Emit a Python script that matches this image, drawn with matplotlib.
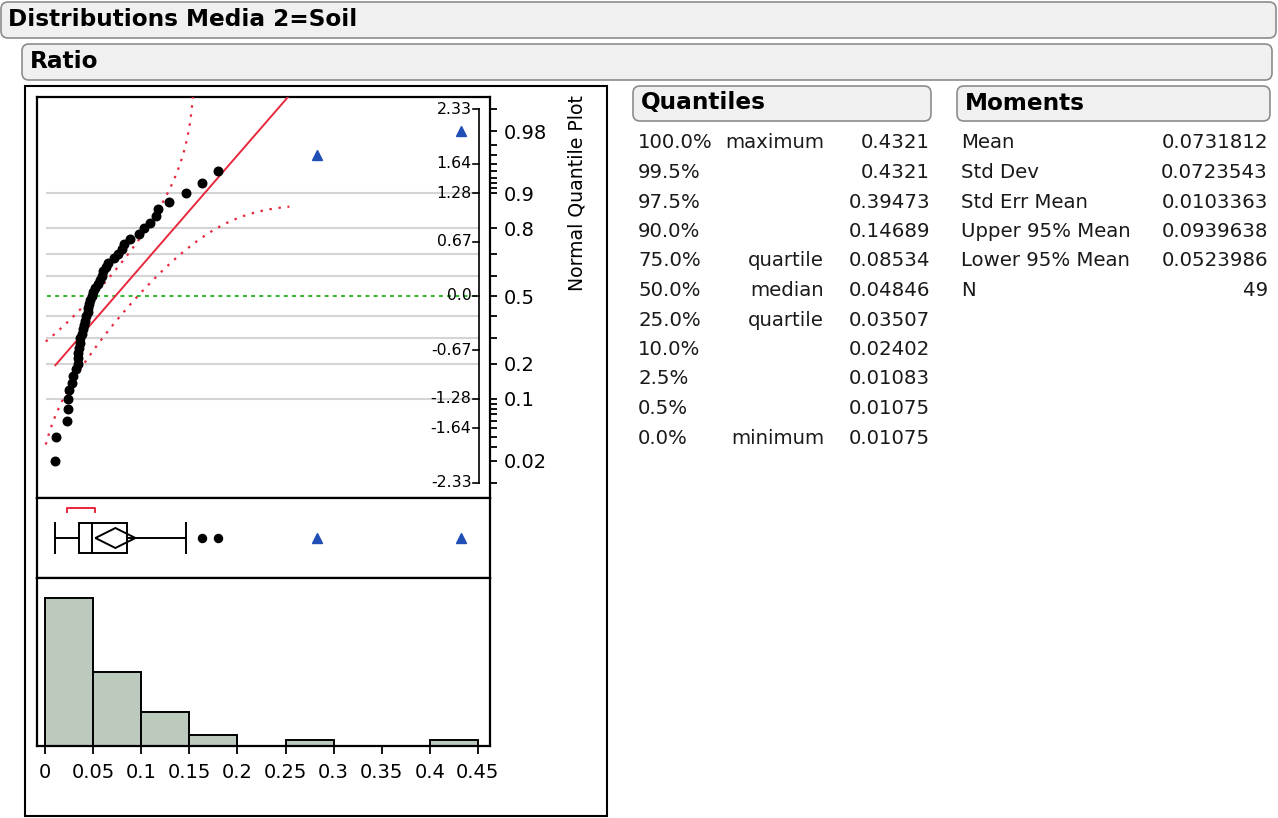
from statistics import NormalDist

import numpy as np
import matplotlib.pyplot as plt
from matplotlib.patches import FancyBboxPatch, Rectangle, Polygon

W, H = 1278, 818
nd = NormalDist()

# sorted Ratio values for Media 2 = Soil
ratio = [0.01075, 0.01107, 0.0226, 0.0240, 0.02402, 0.0253, 0.0278, 0.0294, 0.0322, 0.0338,
         0.0341, 0.03464, 0.0355, 0.0360, 0.0369, 0.0380, 0.0390, 0.0405, 0.0416, 0.0426,
         0.0442, 0.0452, 0.0462, 0.0470, 0.04846, 0.0495, 0.0520, 0.0546, 0.0567, 0.0588,
         0.0608, 0.0629, 0.0650, 0.0720, 0.0760, 0.0800, 0.0825, 0.08818, 0.0980, 0.1030,
         0.1090, 0.1150, 0.1170, 0.1290, 0.14689, 0.1635, 0.1800, 0.28262, 0.4321]
marked = [0.28262, 0.4321]  # rows shown with the triangle marker

quant_pct = ["100.0%", "99.5%", "97.5%", "90.0%", "75.0%", "50.0%",
             "25.0%", "10.0%", "2.5%", "0.5%", "0.0%"]
quant_name = ["maximum", "", "", "", "quartile", "median", "quartile", "", "", "", "minimum"]
quant_val = [0.4321, 0.4321, 0.39473, 0.14689, 0.08534, 0.04846,
             0.03507, 0.02402, 0.01083, 0.01075, 0.01075]

mom_name = ["Mean", "Std Dev", "Std Err Mean", "Upper 95% Mean", "Lower 95% Mean", "N"]
mom_val = [0.0731812, 0.0723543, 0.0103363, 0.0939638, 0.0523986, 49]

prob_ticks = [0.01, 0.02, 0.03, 0.04, 0.05, 0.06, 0.07, 0.08, 0.09, 0.1, 0.2, 0.3, 0.4, 0.5,
              0.6, 0.7, 0.8, 0.9, 0.91, 0.92, 0.93, 0.94, 0.95, 0.96, 0.97, 0.98, 0.99]
prob_shown = [0.02, 0.1, 0.2, 0.5, 0.8, 0.9, 0.98]
z_tick_p = [0.99, 0.95, 0.9, 0.75, 0.5, 0.25, 0.1, 0.05, 0.01]
z_tick_lbl = ["2.33", "1.64", "1.28", "0.67", "0.0", "-0.67", "-1.28", "-1.64", "-2.33"]
hist_ticks = [0, 0.05, 0.1, 0.15, 0.2, 0.25, 0.3, 0.35, 0.4, 0.45]
hist_tick_lbl = ["0", "0.05", "0.1", "0.15", "0.2", "0.25", "0.3", "0.35", "0.4", "0.45"]

RED = "#e8283c"
BLUE = "#1f4fb4"
GREEN = "#2db82d"
BAR = "#bccabd"
TXT = "#1a1a1a"

mean, sd, n = mom_val[0], mom_val[1], mom_val[5]
q3, med, q1 = quant_val[4], quant_val[5], quant_val[6]
ci_hi, ci_lo = mom_val[3], mom_val[4]

plt.rcParams['font.family'] = ['DejaVu Sans']


def rect(x0, y0, x1, y1):
    return [x0 / W, 1 - y1 / H, (x1 - x0) / W, (y1 - y0) / H]


fig = plt.figure(figsize=(W / 100, H / 100), dpi=100)

# page background: header bars, outlines and the report tables
bg = fig.add_axes([0, 0, 1, 1], zorder=0)
bg.set_xlim(0, W)
bg.set_ylim(H, 0)
bg.axis('off')
bg.patch.set_visible(False)

for x0, y0, x1, y1 in [(1, 2, 1276, 38), (22, 44, 1272, 80), (633, 86, 931, 121), (957, 86, 1270, 121)]:
    bg.add_patch(FancyBboxPatch((x0, y0), x1 - x0, y1 - y0, boxstyle="round,pad=0,rounding_size=7",
                                fc="#f0f0f0", ec="#8c8c8c", lw=1.2))
bg.text(8, 20, "Distributions Media 2=Soil", fontsize=16.7, fontweight='bold', va='center')
bg.text(30, 61, "Ratio", fontsize=16.7, fontweight='bold', va='center')
bg.text(641, 103, "Quantiles", fontsize=16.7, fontweight='bold', va='center')
bg.text(965, 103, "Moments", fontsize=16.7, fontweight='bold', va='center')

bg.add_patch(Rectangle((25, 86), 582, 730, fill=False, ec='black', lw=1.5))

for i in range(len(quant_pct)):
    y = 143 + i * 29.5
    bg.text(638, y, quant_pct[i], fontsize=14.2, color=TXT, va='center')
    bg.text(824, y, quant_name[i], fontsize=14.2, color=TXT, va='center', ha='right')
    bg.text(930, y, str(quant_val[i]), fontsize=14.2, color=TXT, va='center', ha='right')

for i in range(len(mom_name)):
    y = 143 + i * 29.5
    v = mom_val[i]
    bg.text(961, y, mom_name[i], fontsize=14.2, color=TXT, va='center')
    bg.text(1268, y, f"{v:.7f}" if isinstance(v, float) else str(v),
            fontsize=14.2, color=TXT, va='center', ha='right')

bg.text(577, 193, "Normal Quantile Plot", fontsize=13.6, rotation=90, va='center', ha='center')

xlim = (-8 / 962, 445 / 962)

# normal quantile plot
axq = fig.add_axes(rect(37, 97, 490, 498), zorder=1)
axq.set_xlim(*xlim)
axq.set_ylim((296 - 498) / 80.26, (296 - 97) / 80.26)
axq.set_xticks([])
axq.yaxis.tick_right()
axq.set_yticks([nd.inv_cdf(p) for p in prob_ticks])
axq.set_yticklabels([f"{p:g}" if p in prob_shown else "" for p in prob_ticks])
axq.tick_params(axis='y', direction='out', length=5, width=1.3, pad=5, labelsize=14)
for s in axq.spines.values():
    s.set_linewidth(1.6)

ytr = axq.get_yaxis_transform()
for p in [0.1, 0.2, 0.3, 0.4, 0.6, 0.7, 0.8, 0.9]:
    z = nd.inv_cdf(p)
    axq.plot([0.022, 0.975], [z, z], color='#d4d4d4', lw=1.5, transform=ytr, zorder=1)
axq.plot([0.022, 0.975], [0, 0], color=GREEN, lw=1.4, ls=(0, (2, 2.2)), transform=ytr, zorder=2)

# inner normal-quantile axis
z_edge = nd.inv_cdf(0.99)
axq.plot([0.9757, 0.9757], [-z_edge, z_edge], color='black', lw=1.2, transform=ytr, zorder=3)
for p, lbl in zip(z_tick_p, z_tick_lbl):
    z = nd.inv_cdf(p)
    axq.plot([0.962, 0.9757], [z, z], color='black', lw=1.2, transform=ytr, zorder=3)
    axq.text(0.959, z, lbl, fontsize=11.3, ha='right', va='center', transform=ytr, zorder=3)

# fitted normal line and Lilliefors bands
xs = np.array([min(ratio), max(ratio)])
axq.plot(xs, (xs - mean) / sd, color=RED, lw=1.4, zorder=4)
D = 0.886 / np.sqrt(n)
xb = np.linspace(mean - sd, mean + 2.5 * sd, 3000)
F = np.array([nd.cdf((x - mean) / sd) for x in xb])
up = F + D < 0.99999
lo = F - D > 0.00001
axq.plot(xb[up], [nd.inv_cdf(f) for f in F[up] + D], color=RED, lw=1.6, ls=(0, (1.1, 3)), zorder=4)
axq.plot(xb[lo], [nd.inv_cdf(f) for f in F[lo] - D], color=RED, lw=1.6, ls=(0, (1.1, 3)), zorder=4)

zq = [nd.inv_cdf((i + 1) / (n + 1)) for i in range(n)]
plain = [(v, z) for v, z in zip(ratio, zq) if v not in marked]
tri = [(v, z) for v, z in zip(ratio, zq) if v in marked]
axq.scatter([v for v, _ in plain], [z for _, z in plain], s=38, color='black', zorder=5)
axq.plot([v for v, _ in tri], [z for _, z in tri], '^', ms=7.5, color=BLUE, zorder=5)

# outlier box plot
axb = fig.add_axes(rect(37, 498, 490, 578), zorder=1)
axb.set_xlim(*xlim)
axb.set_ylim(0, 80)
axb.set_xticks([])
axb.set_yticks([])
for s in axb.spines.values():
    s.set_linewidth(1.6)

iqr = q3 - q1
w_lo = min(v for v in ratio if v >= q1 - 1.5 * iqr)
w_hi = max(v for v in ratio if v <= q3 + 1.5 * iqr)
axb.plot([w_lo, q1], [40, 40], color='black', lw=1.4)
axb.plot([q3, w_hi], [40, 40], color='black', lw=1.4)
axb.plot([w_lo, w_lo], [25, 55], color='black', lw=1.4)
axb.plot([w_hi, w_hi], [25, 55], color='black', lw=1.4)
axb.add_patch(Rectangle((q1, 25), q3 - q1, 30, fc='white', ec='black', lw=1.4, zorder=2))
axb.plot([med, med], [25, 55], color='black', lw=1.4, zorder=3)
axb.add_patch(Polygon([(ci_lo, 40), (mean, 50), (ci_hi, 40), (mean, 30)], closed=True,
                      fill=False, ec='black', lw=1.4, zorder=3))

# shortest half bracket
k = n // 2
widths = [ratio[i + k] - ratio[i] for i in range(n - k)]
i0 = int(np.argmin(widths))
a, b = ratio[i0], ratio[i0 + k]
axb.plot([a, a, b, b], [66, 70, 70, 66], color=RED, lw=1.4)

outl = [v for v in ratio if v > w_hi and v not in marked]
axb.plot(outl, [40] * len(outl), 'o', ms=5.8, color='black')
axb.plot(marked, [40] * len(marked), '^', ms=7.5, color=BLUE)

# histogram
axh = fig.add_axes(rect(37, 578, 490, 746), zorder=1)
axh.hist(ratio, bins=np.arange(0, 0.5, 0.05), color=BAR, edgecolor='black', linewidth=1.4)
axh.set_xlim(*xlim)
axh.set_ylim(0, 26 * 168 / 148)
axh.set_yticks([])
axh.set_xticks(hist_ticks)
axh.set_xticklabels(hist_tick_lbl)
axh.tick_params(axis='x', direction='out', length=6, width=1.3, pad=6, labelsize=14)
for s in axh.spines.values():
    s.set_linewidth(1.6)

fig.savefig("out.png", dpi=100)
